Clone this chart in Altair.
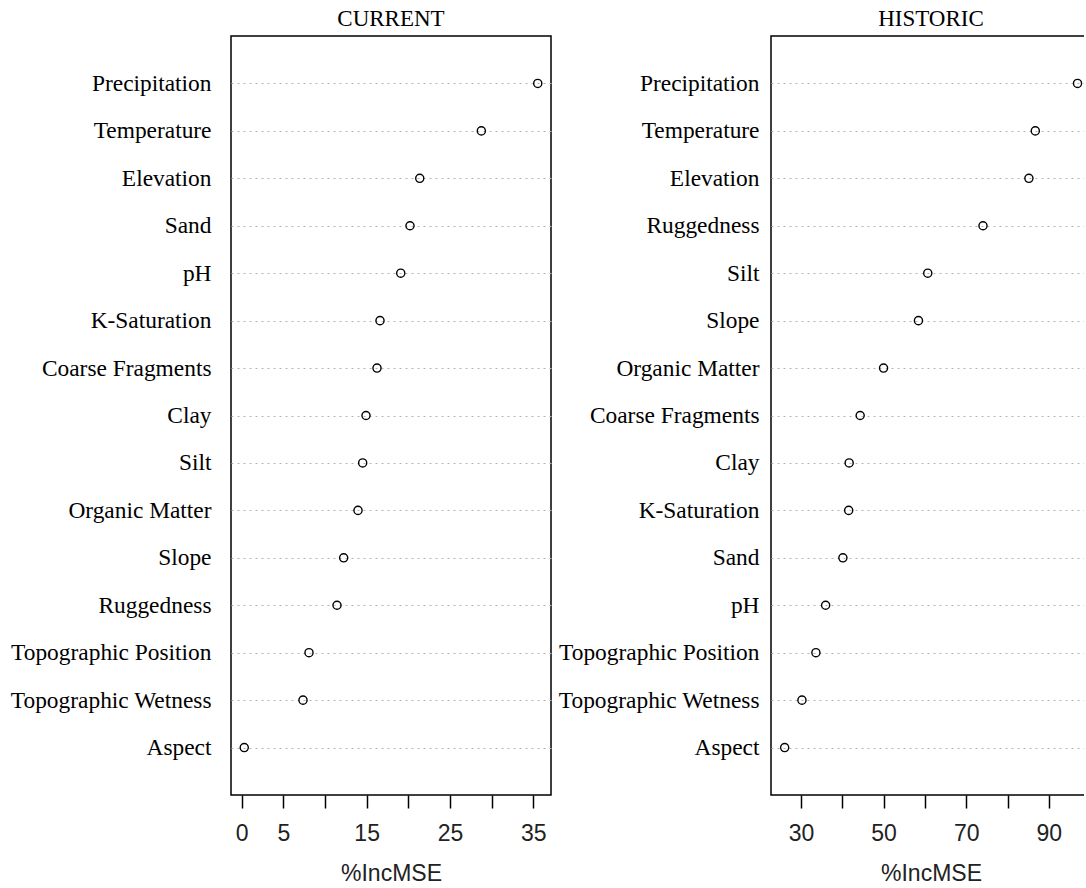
import altair as alt
import pandas as pd

# Random-forest variable importance (%IncMSE), two models
vars_current = [
    "Precipitation", "Temperature", "Elevation", "Sand", "pH", "K-Saturation",
    "Coarse Fragments", "Clay", "Silt", "Organic Matter", "Slope", "Ruggedness",
    "Topographic Position", "Topographic Wetness", "Aspect",
]
inc_current = [35.53, 28.76, 21.37, 20.20, 19.09, 16.60, 16.24, 14.92, 14.52,
               13.96, 12.24, 11.44, 8.08, 7.36, 0.31]

vars_historic = [
    "Precipitation", "Temperature", "Elevation", "Ruggedness", "Silt", "Slope",
    "Organic Matter", "Coarse Fragments", "Clay", "K-Saturation", "Sand", "pH",
    "Topographic Position", "Topographic Wetness", "Aspect",
]
inc_historic = [96.94, 86.72, 85.17, 74.06, 60.69, 58.44, 49.99, 44.33, 41.67,
                41.55, 40.15, 35.97, 33.62, 30.24, 26.06]

ticks_current = [0, 5, 10, 15, 20, 25, 30, 35]
labels_current = [0, 5, 15, 25, 35]
ticks_historic = [30, 40, 50, 60, 70, 80, 90]
labels_historic = [30, 50, 70, 90]

SERIF = "Liberation Serif"
SANS = "Liberation Sans"


def dot_panel(names, values, title, domain, tick_vals, label_vals, label_pad):
    df = pd.DataFrame({"variable": names, "IncMSE": values})
    y = alt.Y(
        "variable:N",
        sort=names,
        scale=alt.Scale(type="point", padding=1.0),
        axis=alt.Axis(
            title=None, grid=True, gridDash=[2, 4], gridColor="#b4b4b4",
            gridWidth=1, ticks=False, domain=False,
            labelFont=SERIF, labelFontSize=23.4, labelColor="black",
            labelPadding=label_pad, labelLimit=0,
        ),
    )
    x = alt.X(
        "IncMSE:Q",
        scale=alt.Scale(domain=domain, nice=False, zero=False),
        axis=alt.Axis(
            title="%IncMSE", values=tick_vals,
            labelExpr=f"indexof({label_vals}, datum.value) < 0 ? '' : datum.label",
            labelOverlap=False, grid=False, domain=False,
            tickSize=13, tickColor="black", tickWidth=1.5,
            labelFont=SANS, labelFontSize=23, labelColor="#222222", labelPadding=14,
            titleFont=SANS, titleFontSize=23, titleFontWeight="normal",
            titleColor="#222222", titlePadding=17,
        ),
    )
    return (
        alt.Chart(
            df,
            title=alt.Title(title, font=SERIF, fontSize=23, fontWeight="normal",
                            color="black", anchor="middle", offset=5),
        )
        .mark_point(shape="circle", filled=False, size=66, stroke="black",
                    strokeWidth=1.4, opacity=1)
        .encode(x=x, y=y)
        .properties(width=320, height=759)
    )


left = dot_panel(vars_current, inc_current, "CURRENT", [-1.28, 37.12],
                 ticks_current, labels_current, 20)
right = dot_panel(vars_historic, inc_historic, "HISTORIC", [22.75, 100.2],
                  ticks_historic, labels_historic, 12)

# the right panel runs past the page edge; negative right padding trims it
chart = (
    alt.hconcat(left, right, spacing=5)
    .properties(padding={"left": 9, "top": 7, "right": -8, "bottom": 0},
                background="white")
    .configure_view(stroke="black", strokeWidth=1.5)
)

chart.save("out.html", embed_options={"renderer": "svg", "actions": False})
